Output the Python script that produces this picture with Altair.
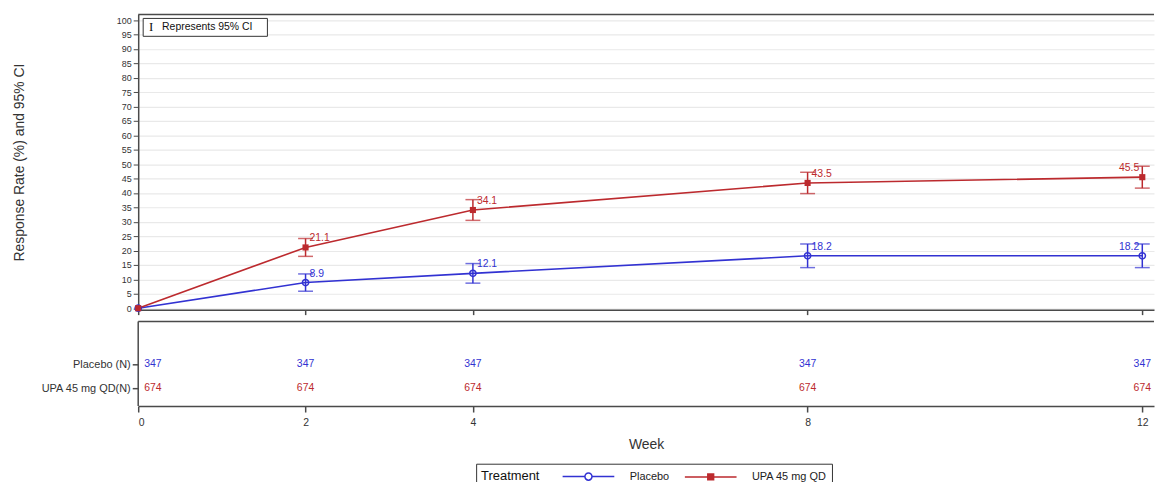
import altair as alt
import pandas as pd

# ---------------- data ----------------
weeks = [0, 2, 4, 8, 12]
treatments = ["Placebo", "UPA 45 mg QD"]

placebo_rate = [0.0, 8.9, 12.1, 18.2, 18.2]
placebo_lo = [0.0, 5.9, 8.7, 14.1, 14.1]
placebo_hi = [0.0, 11.9, 15.5, 22.3, 22.3]

upa_rate = [0.0, 21.1, 34.1, 43.5, 45.5]
upa_lo = [0.0, 18.0, 30.5, 39.8, 41.7]
upa_hi = [0.0, 24.2, 37.7, 47.2, 49.3]

placebo_n = [347, 347, 347, 347, 347]
upa_n = [674, 674, 674, 674, 674]
row_labels = ["Placebo (N)", "UPA 45 mg QD(N)"]

y_ticks = [0, 5, 10, 15, 20, 25, 30, 35, 40, 45, 50, 55, 60, 65, 70, 75, 80, 85, 90, 95, 100]

BLUE = "#3232D2"
RED = "#BC2A2E"
colors = [BLUE, RED]
AXIS = "#4a4a4a"
FONT = "Liberation Sans"

# ---------------- tables ----------------
rows = []
for t, r, lo, hi in [(treatments[0], placebo_rate, placebo_lo, placebo_hi),
                     (treatments[1], upa_rate, upa_lo, upa_hi)]:
    for i, w in enumerate(weeks):
        rows.append({"treatment": t, "week": w, "rate": r[i], "lo": lo[i], "hi": hi[i],
                     "label": f"{r[i]:.1f}"})
df = pd.DataFrame(rows)

nrows = []
for t, lab, ns in [(treatments[0], row_labels[0], placebo_n),
                   (treatments[1], row_labels[1], upa_n)]:
    for i, w in enumerate(weeks):
        nrows.append({"treatment": t, "row": lab, "week": w, "n": str(ns[i])})
ndf = pd.DataFrame(nrows)

one = pd.DataFrame({"k": [0]})

W = 1022
H_TOP = 297
H_BOT = 85
X_MAX = 12.14

xscale = alt.Scale(domain=[0, X_MAX], nice=False, zero=False)
yscale = alt.Scale(domain=[-0.5, 102], nice=False, zero=False)
color = alt.Color("treatment:N", scale=alt.Scale(domain=treatments, range=colors), legend=None)

ax_x_top = alt.Axis(values=weeks, labels=False, ticks=True, tickSize=5, grid=False,
                    title=None, domainColor=AXIS, tickColor=AXIS, domainWidth=1.5,
                    tickWidth=1.5)
ax_y_top = alt.Axis(values=y_ticks, labelFontSize=9, labelColor="#333", tickSize=5,
                    tickColor=AXIS, domainColor=AXIS, domainWidth=1.5, tickWidth=1,
                    grid=True, gridColor="#e9e9e9", gridWidth=1.2, labelOverlap=False,
                    format="d",
                    title="Response Rate (%) and 95% CI", titleFontSize=14,
                    titleFontWeight="normal", titleColor="#333", titleX=-112,
                    titleY=H_TOP / 2, labelPadding=2)

xq = alt.X("week:Q", scale=xscale, axis=ax_x_top)


def yq(field):
    return alt.Y(field, scale=yscale, axis=ax_y_top)


base = alt.Chart(df)

lines = base.mark_line(strokeWidth=1.6).encode(x=xq, y=yq("rate:Q"), color=color)

bars = base.transform_filter("datum.week > 0").mark_rule(strokeWidth=1.5).encode(
    x=xq, y=yq("lo:Q"), y2="hi:Q", color=color)
cap_lo = base.transform_filter("datum.week > 0").mark_tick(
    orient="horizontal", size=15, thickness=1.5).encode(x=xq, y=yq("lo:Q"), color=color)
cap_hi = base.transform_filter("datum.week > 0").mark_tick(
    orient="horizontal", size=15, thickness=1.5).encode(x=xq, y=yq("hi:Q"), color=color)

pts_p = base.transform_filter(alt.datum.treatment == treatments[0]).mark_point(
    shape="circle", filled=False, size=40, strokeWidth=1.5, opacity=1).encode(
    x=xq, y=yq("rate:Q"), color=color)
pts_u = base.transform_filter(alt.datum.treatment == treatments[1]).mark_point(
    shape="square", filled=True, size=38, opacity=1).encode(
    x=xq, y=yq("rate:Q"), color=color)

lab_mid = base.transform_filter("datum.week > 0 && datum.week < 12").mark_text(
    align="left", baseline="middle", dx=4, dy=-9, fontSize=10.5).encode(
    x=xq, y=yq("rate:Q"), text="label:N", color=color)
lab_end = base.transform_filter("datum.week == 12").mark_text(
    align="right", baseline="middle", dx=-3, dy=-9, fontSize=10.5).encode(
    x=xq, y=yq("rate:Q"), text="label:N", color=color)

top_line = alt.Chart(one).mark_rule(color=AXIS, strokeWidth=1.5).encode(
    x=alt.value(0), x2=alt.value(W), y=alt.value(0))

inset_box = alt.Chart(one).mark_rect(fill="white", stroke="#333", strokeWidth=1).encode(
    x=alt.value(5), x2=alt.value(130), y=alt.value(4), y2=alt.value(22))
inset_glyph = alt.Chart(one).mark_text(font="Liberation Serif", fontSize=13, align="center",
                                       baseline="middle", color="#111").encode(
    x=alt.value(13), y=alt.value(12.5), text=alt.value("I"))
inset_text = alt.Chart(one).mark_text(fontSize=10.5, align="left", baseline="middle",
                                      color="#111").encode(
    x=alt.value(24), y=alt.value(13), text=alt.value("Represents 95% CI"))

upper = alt.layer(lines, bars, cap_lo, cap_hi, pts_p, pts_u, lab_mid, lab_end,
                  top_line, inset_box, inset_glyph, inset_text).properties(width=W, height=H_TOP)

# ---------------- lower (N) table ----------------
ax_x_bot = alt.Axis(values=weeks, format="d", tickSize=6, tickColor=AXIS,
                    domainColor=AXIS, domainWidth=1.5, tickWidth=1.5, grid=False,
                    labelFontSize=10.5, labelColor="#333", labelPadding=6,
                    title="Week", titleFontSize=14, titleFontWeight="normal",
                    titleColor="#333", titlePadding=9)
ax_y_bot = alt.Axis(title=None, labelFontSize=11, labelColor="#333", tickSize=6,
                    tickColor=AXIS, domain=False, tickWidth=1.5,
                    labelPadding=2, grid=False)
x_bot = alt.X("week:Q", scale=xscale, axis=ax_x_bot)
y_bot = alt.Y("row:N", scale=alt.Scale(type="point", domain=row_labels, range=[43, 67],
                                       padding=0), axis=ax_y_bot)

nbase = alt.Chart(ndf)
n_first = nbase.transform_filter("datum.week == 0").mark_text(
    align="left", baseline="middle", dx=6, fontSize=10.5).encode(
    x=x_bot, y=y_bot, text="n:N", color=color)
n_rest = nbase.transform_filter("datum.week > 0").mark_text(
    align="center", baseline="middle", fontSize=10.5).encode(
    x=x_bot, y=y_bot, text="n:N", color=color)

low_top = alt.Chart(one).mark_rule(color=AXIS, strokeWidth=1.5).encode(
    x=alt.value(0), x2=alt.value(W), y=alt.value(0))
low_left = alt.Chart(one).mark_rule(color=AXIS, strokeWidth=1.5).encode(
    x=alt.value(0), y=alt.value(0), y2=alt.value(H_BOT))

circle_path = ("M-4,0H-0.55M0.55,0H4M-0.55,0A0.55,0.55,0,1,0,0.55,0"
               "A0.55,0.55,0,1,0,-0.55,0Z")
square_path = "M-4,0H4M-0.45,-0.45H0.45V0.45H-0.45Z"

leg = alt.Legend(title="Treatment", orient="none", legendX=340, legendY=143,
                 direction="horizontal", titleOrient="left", titleFontSize=13,
                 titleFontWeight="normal", titleColor="#111", titlePadding=22,
                 labelFontSize=11, labelColor="#222", labelOffset=34, symbolOffset=19.5,
                 columnPadding=12, strokeColor="#333", fillColor="white", padding=5,
                 symbolSize=169, symbolStrokeWidth=1.5)

legend_layer = alt.Chart(df).transform_filter("datum.week < 0").mark_point(
    size=169, strokeWidth=1.5, opacity=1).encode(
    stroke=alt.Stroke("treatment:N", scale=alt.Scale(domain=treatments, range=colors), legend=leg),
    fill=alt.Fill("treatment:N", scale=alt.Scale(domain=treatments, range=["white", RED]), legend=leg),
    shape=alt.Shape("treatment:N", scale=alt.Scale(domain=treatments, range=[circle_path, square_path]),
                    legend=leg),
)

lower = alt.layer(n_first, n_rest, low_top, low_left, legend_layer).properties(width=W, height=H_BOT)

chart = alt.vconcat(upper, lower, spacing=5).resolve_legend(
    stroke="independent", fill="independent", shape="independent"
).properties(
    padding={"left": 5, "top": 4, "right": 0, "bottom": 5}
).configure(font=FONT).configure_view(stroke=None)

chart.save("out.html", embed_options={"renderer": "svg", "actions": False})
